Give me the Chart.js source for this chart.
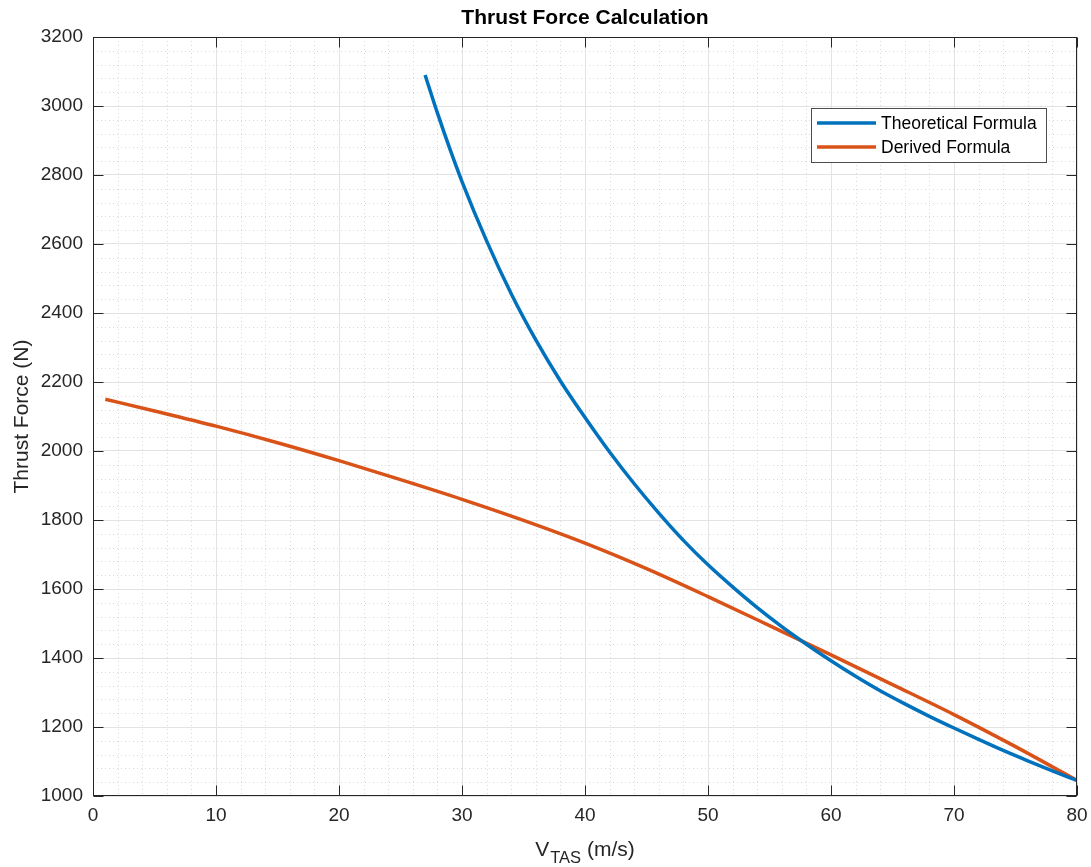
<!DOCTYPE html>
<html>
<head>
<meta charset="utf-8">
<script src="https://cdn.jsdelivr.net/npm/chart.js@4/dist/chart.umd.min.js"></script>
<style>
  html, body { margin: 0; padding: 0; background: #fff; }
</style>
</head>
<body>
<canvas id="chart" width="1091" height="867"></canvas>
<script>
// values
const theoV = [27, 28, 29, 30, 32, 34, 36, 38, 40, 42, 44, 46, 48, 50, 52, 54, 56, 58, 60, 62, 64, 66, 68, 70, 72, 74, 76, 78, 80]
const theoT = [3090, 2980, 2877, 2781, 2609, 2456, 2322, 2203, 2097, 1997, 1905, 1820, 1741, 1670, 1606, 1546, 1491, 1440, 1392, 1347, 1305, 1267, 1231, 1197, 1164, 1132, 1102, 1073, 1045]
const derivV = [1, 5, 10, 15, 20, 25, 30, 35, 40, 45, 50, 55, 60, 65, 70, 75, 80]
const derivT = [2150, 2116, 2072, 2024, 1972, 1917, 1860, 1799, 1733, 1659, 1578, 1494, 1409, 1323, 1236, 1143, 1045]
const seriesNames = ["Theoretical Formula", "Derived Formula"]
const xTicks = [0, 10, 20, 30, 40, 50, 60, 70, 80]
const yTicks = [1000, 1200, 1400, 1600, 1800, 2000, 2200, 2400, 2600, 2800, 3000, 3200]

const FONT = "'Liberation Sans', Arial, sans-serif"
const INK = "#262626"
const colors = { blue: "#0072BD", orange: "#D95319" }

const toPoints = (xs, ys) => xs.map((v, i) => ({ x: v, y: ys[i] }))

// MATLAB-style frame: minor dotted grid, box, inward ticks, labels, legend
const matlabFrame = {
  id: "matlabFrame",
  beforeDatasetsDraw(chart) {
    const { ctx, chartArea: a, scales: { x, y } } = chart
    ctx.save()
    ctx.strokeStyle = "#dadada"
    ctx.lineWidth = 1
    ctx.setLineDash([1, 3])
    for (let v = x.min; v <= x.max; v += 2) {
      if (v % 10 === 0) continue
      const px = Math.round(x.getPixelForValue(v)) + 0.5
      ctx.beginPath(); ctx.moveTo(px, a.top); ctx.lineTo(px, a.bottom); ctx.stroke()
    }
    for (let v = y.min; v <= y.max; v += 40) {
      if (v % 200 === 0) continue
      const py = Math.round(y.getPixelForValue(v)) + 0.5
      ctx.beginPath(); ctx.moveTo(a.left, py); ctx.lineTo(a.right, py); ctx.stroke()
    }
    ctx.restore()
  },
  afterDraw(chart) {
    const { ctx, chartArea: a, scales: { x, y } } = chart
    const L = Math.round(a.left) + 0.5, R = Math.round(a.right) - 0.5
    const T = Math.round(a.top) + 0.5, B = Math.round(a.bottom) - 0.5
    ctx.save()
    // box
    ctx.strokeStyle = INK
    ctx.lineWidth = 1
    ctx.strokeRect(L, T, R - L, B - T)
    // inward ticks on all four sides
    const tl = 10
    ctx.beginPath()
    xTicks.forEach((v) => {
      const px = Math.round(x.getPixelForValue(v)) + 0.5
      ctx.moveTo(px, B); ctx.lineTo(px, B - tl)
      ctx.moveTo(px, T); ctx.lineTo(px, T + tl)
    })
    yTicks.forEach((v) => {
      const py = Math.round(y.getPixelForValue(v)) + 0.5
      ctx.moveTo(L, py); ctx.lineTo(L + tl, py)
      ctx.moveTo(R, py); ctx.lineTo(R - tl, py)
    })
    ctx.stroke()

    // title
    ctx.fillStyle = "#000"
    ctx.font = "bold 21px " + FONT
    ctx.textAlign = "center"
    ctx.textBaseline = "middle"
    ctx.fillText("Thrust Force Calculation", (a.left + a.right) / 2, 18)

    // y label
    ctx.fillStyle = INK
    ctx.font = "21px " + FONT
    ctx.save()
    ctx.translate(22, (a.top + a.bottom) / 2)
    ctx.rotate(-Math.PI / 2)
    ctx.fillText("Thrust Force (N)", 0, 0)
    ctx.restore()

    // x label with subscript
    const big = "21px " + FONT, small = "16.5px " + FONT
    ctx.textAlign = "left"
    ctx.textBaseline = "alphabetic"
    ctx.font = big
    const w1 = ctx.measureText("V").width + 1
    const w3 = ctx.measureText(" (m/s)").width
    ctx.font = small
    const w2 = ctx.measureText("TAS").width
    const sx = (a.left + a.right) / 2 - (w1 + w2 + w3) / 2
    ctx.font = big
    ctx.fillText("V", sx, 856)
    ctx.font = small
    ctx.fillText("TAS", sx + w1, 863)
    ctx.font = big
    ctx.fillText(" (m/s)", sx + w1 + w2, 856)

    // legend
    const lx = 811.5, ly = 108.5, lw = 235, lh = 54
    ctx.fillStyle = "#fff"
    ctx.fillRect(lx, ly, lw, lh)
    ctx.strokeStyle = "#4d4d4d"
    ctx.strokeRect(lx, ly, lw, lh)
    ctx.font = "17.5px " + FONT
    ctx.textBaseline = "middle"
    chart.data.datasets.forEach((ds, i) => {
      const cy = 123 + i * 24
      ctx.strokeStyle = ds.borderColor
      ctx.lineWidth = 3.5
      ctx.beginPath(); ctx.moveTo(817, cy); ctx.lineTo(876, cy); ctx.stroke()
      ctx.fillStyle = "#000"
      ctx.fillText(ds.label, 881, cy + 1)
    })
    ctx.restore()
  },
}

new Chart(document.getElementById("chart").getContext("2d"), {
  type: "line",
  data: {
    datasets: [
      {
        label: seriesNames[0],
        data: toPoints(theoV, theoT),
        borderColor: colors.blue,
        borderWidth: 3.5,
        pointRadius: 0,
        cubicInterpolationMode: "monotone",
        fill: false,
      },
      {
        label: seriesNames[1],
        data: toPoints(derivV, derivT),
        borderColor: colors.orange,
        borderWidth: 3.5,
        pointRadius: 0,
        cubicInterpolationMode: "monotone",
        fill: false,
      },
    ],
  },
  options: {
    responsive: false,
    animation: false,
    layout: { padding: { top: 37, right: 14, left: 0, bottom: 0 } },
    scales: {
      x: {
        type: "linear",
        min: 0,
        max: 80,
        afterFit: (s) => { s.height = 71; s.paddingLeft = 0; s.paddingRight = 0 },
        afterBuildTicks: (s) => { s.ticks = xTicks.map((v) => ({ value: v })) },
        grid: { color: "#e3e3e3", drawTicks: false },
        border: { display: false },
        ticks: { color: INK, font: { family: FONT, size: 19 }, padding: 8, maxRotation: 0, callback: (v) => String(v) },
      },
      y: {
        type: "linear",
        min: 1000,
        max: 3200,
        afterFit: (s) => { s.width = 93; s.paddingTop = 0; s.paddingBottom = 0 },
        afterBuildTicks: (s) => { s.ticks = yTicks.map((v) => ({ value: v })) },
        grid: { color: "#e3e3e3", drawTicks: false },
        border: { display: false },
        ticks: { color: INK, font: { family: FONT, size: 19 }, padding: 10, callback: (v) => String(v) },
      },
    },
    plugins: {
      legend: { display: false },
      title: { display: false },
      tooltip: { enabled: false },
    },
  },
  plugins: [matlabFrame],
})
</script>
</body>
</html>
